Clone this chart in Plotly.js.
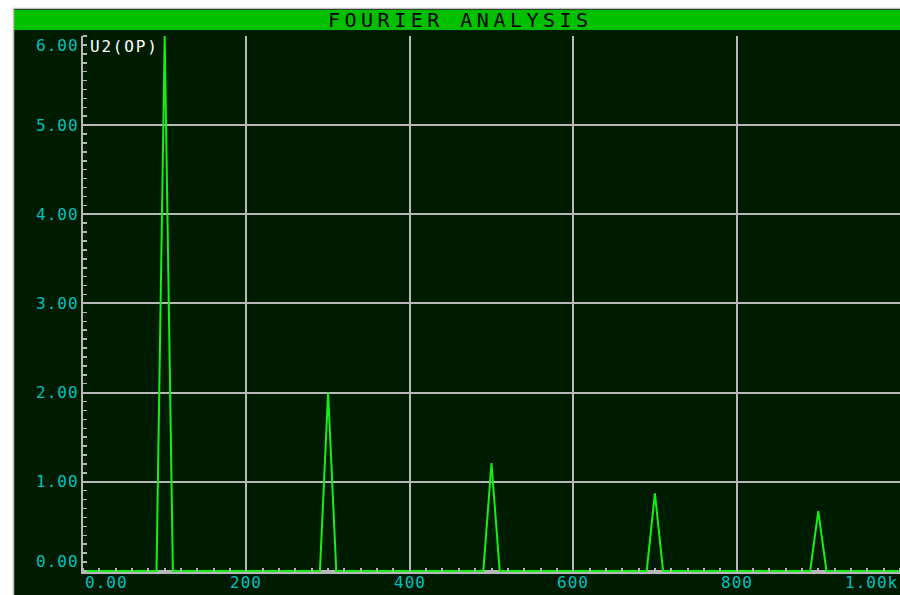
<!DOCTYPE html>
<html>
<head>
<meta charset="utf-8">
<script src="https://cdn.plot.ly/plotly-3.0.1.min.js"></script>
<style>html,body{margin:0;padding:0;background:#fff;}#chart{width:900px;height:595px;}</style>
</head>
<body>
<div id="chart"></div>
<script>
// Data
const chartTitle = "FOURIER ANALYSIS";
const traceLabel = "U2(OP)";
const freq = [0, 90, 100, 110, 290, 300, 310, 490, 500, 510, 690, 700, 710, 890, 900, 910, 1000];
const magnitude = [0, 0, 6.0, 0, 0, 2.0, 0, 0, 1.21, 0, 0, 0.87, 0, 0, 0.67, 0, 0];
const xTickVals = [0, 200, 400, 600, 800, 1000];
const xTickText = ["0.00", "200", "400", "600", "800", "1.00k"];
const yTickVals = [0, 1, 2, 3, 4, 5, 6];
const yTickText = ["0.00", "1.00", "2.00", "3.00", "4.00", "5.00", "6.00"];

const W = 900, H = 595;
const mL = 83, mR = 0, mT = 36, mB = 23;
const pw = W - mL - mR, ph = H - mT - mB;
const px = v => (v - mL) / pw;          // page x -> paper x
const py = v => 1 - (v - mT) / ph;      // page y -> paper y

const dark = "#001c00";
const gridCol = "#b8b8b8";
const cyan = "#00c0c0";
const mono = "DejaVu Sans Mono, monospace";
const sp = (t, s) => '<span style="letter-spacing:' + s + 'px">' + t + '</span>';

const annotations = [];
annotations.push({
  xref: "paper", yref: "paper", x: px(460), y: py(20), xanchor: "center", yanchor: "middle",
  text: sp(chartTitle, 4.5), showarrow: false, font: {family: mono, size: 20, color: "#000"}
});
annotations.push({
  xref: "paper", yref: "paper", x: px(88), y: py(46), xanchor: "left", yanchor: "middle",
  text: sp(traceLabel, 1.8), showarrow: false, font: {family: mono, size: 16, color: "#ffffff"}
});
yTickVals.forEach((v, i) => {
  let shift = 0;
  if (i === 0) shift = 9;
  if (i === yTickVals.length - 1) shift = -9;
  annotations.push({
    xref: "paper", yref: "y", x: 0, y: v, xanchor: "right", yanchor: "middle", xshift: -2, yshift: shift,
    text: sp(yTickText[i], 1), showarrow: false, font: {family: mono, size: 16, color: cyan}
  });
});
xTickVals.forEach((v, i) => {
  let anchor = "center";
  if (i === 0) anchor = "left";
  if (i === xTickVals.length - 1) anchor = "right";
  annotations.push({
    xref: "x", yref: "paper", x: v, y: py(582), xanchor: anchor, yanchor: "middle",
    text: sp(xTickText[i], 1), showarrow: false, font: {family: mono, size: 16, color: cyan}
  });
});

const shapes = [
  // dark panel
  {type: "rect", xref: "paper", yref: "paper", x0: px(14), x1: px(900), y0: py(595), y1: py(9), fillcolor: dark, line: {width: 0}, layer: "below"},
  // green title bar
  {type: "rect", xref: "paper", yref: "paper", x0: px(14), x1: px(900), y0: py(30), y1: py(10), fillcolor: "#00c000", line: {width: 0}, layer: "above"},
  // outer gray border lines
  {type: "line", xref: "paper", yref: "paper", x0: px(13.5), x1: px(13.5), y0: py(595), y1: py(8.5), line: {color: "#c0c0c0", width: 1.5}},
  {type: "line", xref: "paper", yref: "paper", x0: px(13.5), x1: px(900), y0: py(8.5), y1: py(8.5), line: {color: "#c0c0c0", width: 1.5}}
];

const trace = {
  x: freq, y: magnitude, type: "scatter", mode: "lines",
  line: {color: "#14f014", width: 2}, hoverinfo: "skip", showlegend: false
};

const layout = {
  width: W, height: H,
  margin: {l: mL, r: mR, t: mT, b: mB, pad: 0},
  paper_bgcolor: "#ffffff", plot_bgcolor: dark,
  showlegend: false,
  xaxis: {
    range: [0, 1000], tickmode: "array", tickvals: xTickVals, showticklabels: false,
    ticks: "", showgrid: true, gridcolor: gridCol, gridwidth: 2, zeroline: false,
    showline: true, linecolor: gridCol, linewidth: 2,
    minor: {dtick: 20, tick0: 0, ticks: "inside", ticklen: 4, tickcolor: gridCol, tickwidth: 2, showgrid: false}
  },
  yaxis: {
    range: [-0.012, 6.0], tickmode: "array", tickvals: yTickVals, showticklabels: false,
    ticks: "", showgrid: true, gridcolor: gridCol, gridwidth: 2, zeroline: false,
    showline: true, linecolor: gridCol, linewidth: 2,
    minor: {dtick: 0.1, tick0: 0, ticks: "inside", ticklen: 4, tickcolor: gridCol, tickwidth: 1.5, showgrid: false}
  },
  shapes: shapes,
  annotations: annotations
};

Plotly.newPlot("chart", [trace], layout, {displayModeBar: false, staticPlot: true});
</script>
</body>
</html>
